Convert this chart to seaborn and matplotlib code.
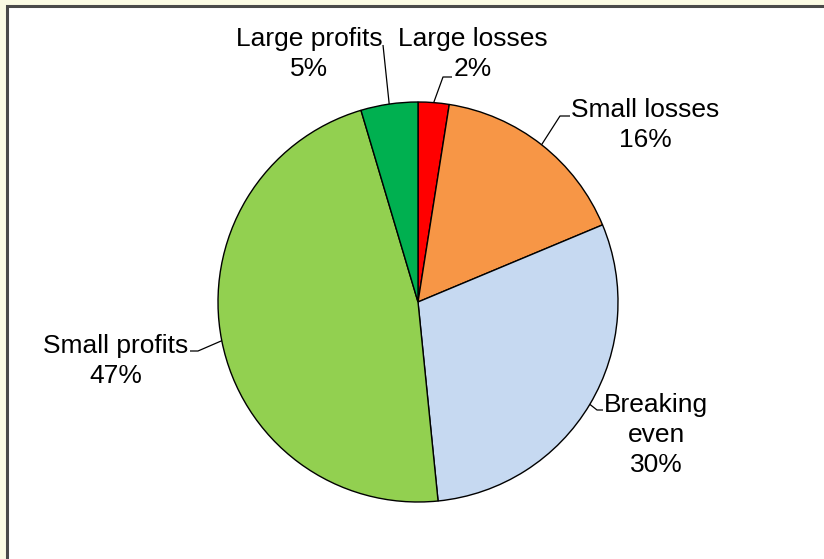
import numpy as np
import matplotlib
matplotlib.use("Agg")
import matplotlib.pyplot as plt
from matplotlib.patches import Rectangle
import seaborn as sns

# data (clockwise from 12 o'clock)
categories = ["Large losses", "Small losses", "Breaking\neven", "Small profits", "Large profits"]
shares = [2.5, 16.2, 29.7, 47.0, 4.6]
colors = ["#FF0000", "#F79646", "#C6D9F1", "#92D050", "#00B050"]

# label layout: text centre, leader knee, leader end (data units, radius = 1)
text_pos = [(0.275, 1.24), (1.135, 0.885), (1.19, -0.665), (-1.51, -0.295), (-0.545, 1.24)]
knee_pos = [(0.125, 1.125), (0.71, 0.93), (0.895, -0.54), (-1.10, -0.245), (-0.175, 1.285)]
end_pos = [(0.17, 1.125), (0.76, 0.93), (0.925, -0.54), (-1.14, -0.245), (-0.175, 1.285)]

sns.set_theme(style="white")
plt.rcParams["font.family"] = ["Liberation Sans", "DejaVu Sans"]

fig = plt.figure(figsize=(8.24, 5.59), dpi=100)
fig.patch.set_facecolor("#FBFBE4")
# chart area frame (extends past the right and bottom edges)
fig.patches.append(Rectangle((6.5, -20), 900, 559 - 5.5 + 20, transform=None,
                             facecolor="white", edgecolor="#4A4A4A", linewidth=2.2,
                             zorder=-10))

ax = fig.add_axes([0, 0, 1, 1])
ax.patch.set_alpha(0)

wedges, _ = ax.pie(shares, colors=colors, startangle=90, counterclock=False,
                   radius=1, center=(0, 0),
                   wedgeprops=dict(edgecolor="black", linewidth=1.0))
ax.set_xlim(-2.09, 2.03)
ax.set_ylim(-1.285, 1.51)
ax.set_aspect("equal")
ax.axis("off")

for w, cat, val, tp, kp, ep in zip(wedges, categories, shares, text_pos, knee_pos, end_pos):
    mid = np.deg2rad((w.theta1 + w.theta2) / 2)
    px, py = np.cos(mid), np.sin(mid)
    ax.plot([px, kp[0], ep[0]], [py, kp[1], ep[1]], color="black", lw=0.9,
            solid_capstyle="butt")
    ax.text(tp[0], tp[1], f"{cat}\n{val:.0f}%", ha="center", va="center",
            fontsize=19, color="black", linespacing=1.3)

fig.savefig("out.png", dpi=100)
